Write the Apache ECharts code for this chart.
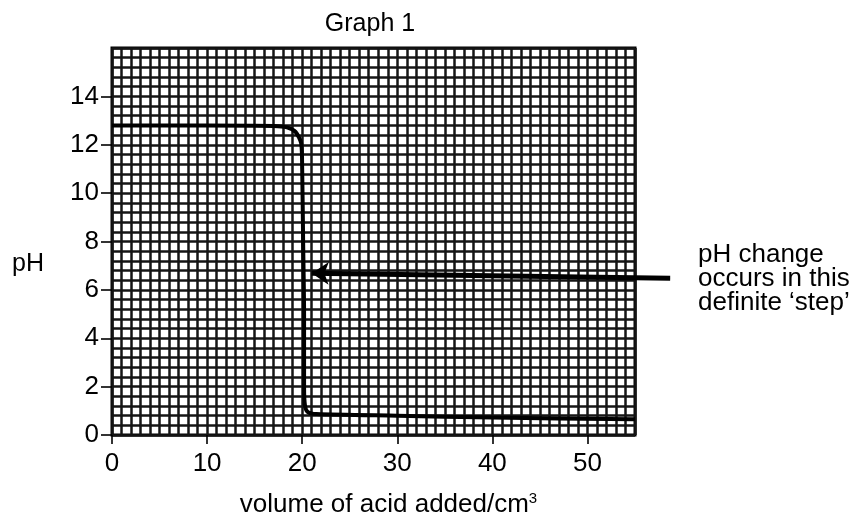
<!DOCTYPE html>
<html>
<head>
<meta charset="utf-8">
<script src="https://cdn.jsdelivr.net/npm/echarts@6/dist/echarts.min.js"></script>
<style>
  html, body { margin: 0; padding: 0; background: #fff; }
  #chart { width: 858px; height: 515px; }
</style>
</head>
<body>
<div id="chart"></div>
<script>
// Titration curve: pH against volume of acid added (cm³)
const volume = [0, 10, 17, 18.4, 19.3, 19.9, 20.0, 20.1, 20.2, 20.2, 20.3, 20.6, 21.5, 30, 40, 55];
const pH     = [12.8, 12.8, 12.78, 12.72, 12.53, 12.05, 11, 8, 5, 2, 1.2, 0.95, 0.87, 0.8, 0.72, 0.65];

// Axis ranges, graph-paper spacing and labelled ticks
const xRange = [0, 55];
const yRange = [0, 16];
const xPaperStep = 1;
const yPaperStep = 0.4;
const xTickValues = [0, 10, 20, 30, 40, 50];
const yTickValues = [0, 2, 4, 6, 8, 10, 12, 14];

// Annotation arrow: from the note back to the vertical step
const arrowTail = [58.7, 6.48];
const arrowHead = [21.0, 6.69];

const titleText = 'Graph 1';
const xName = 'volume of acid added/cm';
const xNameSup = '3';
const yName = 'pH';
const noteLines = ['pH change', 'occurs in this', 'definite \u2018step\u2019'];

const FONT = '"Liberation Sans", Arial, sans-serif';
const ink = '#000';

const chart = echarts.init(document.getElementById('chart'), null, { renderer: 'canvas' });

const paperLine = { show: true, lineStyle: { color: '#151515', width: 2.5 } };

chart.setOption({
  animation: false,
  backgroundColor: '#fff',
  textStyle: { fontFamily: FONT },
  title: [
    {
      text: titleText, left: 370, top: 12, textAlign: 'center', padding: 0,
      textStyle: { fontFamily: FONT, fontSize: 25, fontWeight: 'normal', color: ink }
    },
    {
      text: yName, left: 12, top: 252, padding: 0,
      textStyle: { fontFamily: FONT, fontSize: 25, fontWeight: 'normal', color: ink }
    },
    {
      text: noteLines.join('\n'), left: 698, top: 243, padding: 0,
      textStyle: { fontFamily: FONT, fontSize: 26, lineHeight: 24, fontWeight: 'normal', color: ink }
    }
  ],
  grid: {
    left: 112, right: 223, top: 48, bottom: 80,
    outerBoundsMode: 'none',
    containLabel: false,
    show: true, borderColor: ink, borderWidth: 3, backgroundColor: '#fff'
  },
  xAxis: [
    {
      type: 'value', min: xRange[0], max: xRange[1], interval: xPaperStep,
      axisLine: { show: false }, axisTick: { show: false }, axisLabel: { show: false },
      splitLine: paperLine
    },
    {
      type: 'value', position: 'bottom', min: xRange[0], max: xRange[1],
      axisLine: { show: false },
      axisTick: { show: true, length: 9, customValues: xTickValues, lineStyle: { color: ink, width: 1.6 } },
      axisLabel: { show: true, margin: 16, fontSize: 26, color: ink, fontFamily: FONT,
        customValues: xTickValues },
      splitLine: { show: false },
      name: '{a|' + xName + '}{s|' + xNameSup + '}',
      nameLocation: 'middle', nameGap: 56,
      nameTextStyle: {
        padding: [0, 0, 0, 30],
        rich: {
          a: { fontFamily: FONT, fontSize: 26, color: ink, lineHeight: 28 },
          s: { fontFamily: FONT, fontSize: 15, color: ink, verticalAlign: 'top', lineHeight: 28 }
        }
      }
    }
  ],
  yAxis: [
    {
      type: 'value', min: yRange[0], max: yRange[1], interval: yPaperStep,
      axisLine: { show: false }, axisTick: { show: false }, axisLabel: { show: false },
      splitLine: paperLine
    },
    {
      type: 'value', position: 'left', min: yRange[0], max: yRange[1],
      axisLine: { show: false },
      axisTick: { show: true, length: 11, customValues: yTickValues, lineStyle: { color: ink, width: 1.6 } },
      axisLabel: { show: true, margin: 13, fontSize: 26, color: ink, fontFamily: FONT,
        customValues: yTickValues },
      splitLine: { show: false }
    }
  ],
  series: [
    {
      type: 'line',
      xAxisIndex: 0, yAxisIndex: 0,
      data: volume.map((v, i) => [v, pH[i]]),
      showSymbol: false, symbol: 'none',
      smooth: 0.25,
      lineStyle: { color: ink, width: 4 },
      z: 5
    },
    {
      type: 'lines',
      coordinateSystem: 'cartesian2d',
      xAxisIndex: 0, yAxisIndex: 0,
      clip: false,
      silent: true,
      symbol: ['none', 'arrow'],
      symbolSize: 17,
      lineStyle: { color: ink, width: 5, opacity: 1, curveness: 0 },
      data: [{ coords: [arrowTail, arrowHead] }],
      z: 6
    }
  ]
});
</script>
</body>
</html>
